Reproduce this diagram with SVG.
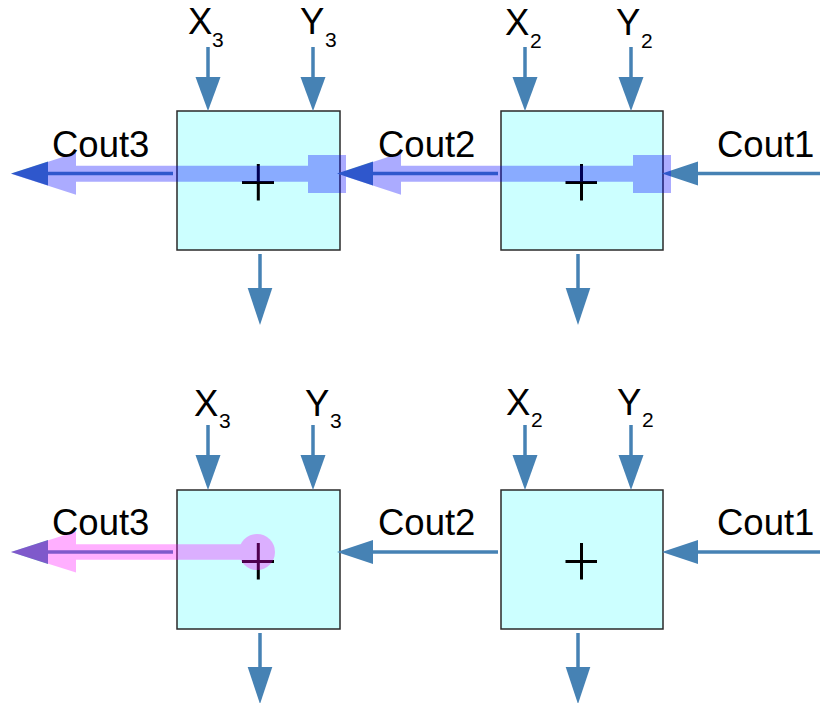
<svg xmlns="http://www.w3.org/2000/svg" width="820" height="703" viewBox="0 0 820 703">
  <style>
    .box { fill: #ccffff; stroke: #2a2a2a; stroke-width: 1.5; }
    .plus { stroke: #000; stroke-width: 3; fill: none; }
    .wire { stroke: #4682b4; stroke-width: 3.5; fill: none; }
    .head { fill: #4682b4; }
    .lbl { font-family: "Liberation Sans", Arial, sans-serif; font-size: 36.5px; fill: #000; }
    .sub { font-family: "Liberation Sans", Arial, sans-serif; font-size: 21px; fill: #000; }
  </style>
  <rect width="820" height="703" fill="#ffffff"/>

  <!-- Top row nodes -->
  <g id="adder-top-3">
    <rect class="box" x="177" y="111" width="163" height="139"/>
    <path class="plus" d="M242 182.5 H274 M258.3 164 V200.5"/>
  </g>
  <g id="adder-top-2">
    <rect class="box" x="501" y="111" width="162" height="139"/>
    <path class="plus" d="M565.5 182.5 H597 M581.5 164 V200.5"/>
  </g>
  <!-- Bottom row nodes -->
  <g id="adder-bottom-3">
    <rect class="box" x="177" y="490" width="163" height="139"/>
    <path class="plus" d="M242 561.5 H274 M258.3 543 V579.5"/>
  </g>
  <g id="adder-bottom-2">
    <rect class="box" x="501" y="490" width="162" height="139"/>
    <path class="plus" d="M565.5 561.5 H597 M581.5 543 V579.5"/>
  </g>

  <!-- Connectors -->
  <g id="connectors">
    <!-- top inputs -->
    <line class="wire" x1="208" y1="47" x2="208" y2="78"/>
    <polygon class="head" points="195.5,77 220.5,77 208,111"/>
    <line class="wire" x1="313" y1="47" x2="313" y2="78"/>
    <polygon class="head" points="300.5,77 325.5,77 313,111"/>
    <line class="wire" x1="525" y1="47" x2="525" y2="78"/>
    <polygon class="head" points="512.5,77 537.5,77 525,111"/>
    <line class="wire" x1="631" y1="47" x2="631" y2="78"/>
    <polygon class="head" points="618.5,77 643.5,77 631,111"/>
    <!-- top outputs -->
    <line class="wire" x1="260" y1="254" x2="260" y2="289"/>
    <polygon class="head" points="247.7,288 272.3,288 260,325"/>
    <line class="wire" x1="578" y1="254" x2="578" y2="289"/>
    <polygon class="head" points="565.7,288 590.3,288 578,325"/>
    <!-- top carries -->
    <line class="wire" x1="820" y1="173.5" x2="697" y2="173.5"/>
    <polygon class="head" points="662,173.5 698,161.5 698,185.5"/>
    <line class="wire" x1="498" y1="173.5" x2="372" y2="173.5"/>
    <polygon class="head" points="337,173.5 373,161.5 373,185.5"/>
    <line class="wire" x1="173" y1="173.5" x2="47" y2="173.5"/>
    <polygon class="head" points="11,173.5 48,161.5 48,185.5"/>

    <!-- bottom inputs -->
    <line class="wire" x1="208" y1="425" x2="208" y2="456"/>
    <polygon class="head" points="195.5,455 220.5,455 208,490"/>
    <line class="wire" x1="313" y1="425" x2="313" y2="456"/>
    <polygon class="head" points="300.5,455 325.5,455 313,490"/>
    <line class="wire" x1="525" y1="425" x2="525" y2="456"/>
    <polygon class="head" points="512.5,455 537.5,455 525,490"/>
    <line class="wire" x1="631" y1="425" x2="631" y2="456"/>
    <polygon class="head" points="618.5,455 643.5,455 631,490"/>
    <!-- bottom outputs -->
    <line class="wire" x1="260" y1="633" x2="260" y2="668"/>
    <polygon class="head" points="247.7,667 272.3,667 260,704"/>
    <line class="wire" x1="578" y1="633" x2="578" y2="668"/>
    <polygon class="head" points="565.7,667 590.3,667 578,704"/>
    <!-- bottom carries -->
    <line class="wire" x1="820" y1="552" x2="697" y2="552"/>
    <polygon class="head" points="662,552 698,540 698,564"/>
    <line class="wire" x1="498" y1="552" x2="372" y2="552"/>
    <polygon class="head" points="337,552 373,540 373,564"/>
    <line class="wire" x1="173" y1="552" x2="47" y2="552"/>
    <polygon class="head" points="11,552 48,540 48,564"/>
  </g>

  <!-- Highlighted carry paths -->
  <g id="highlight-ripple" fill="#0000ff" opacity="0.33">
    <path d="M11 173.7 L76 152.7 L76 165.7 L308 165.7 L308 155 L346 155 L346 193 L308 193 L308 181.7 L76 181.7 L76 194.7 Z
             M337 173.7 L401 152.7 L401 165.7 L633 165.7 L633 155 L671 155 L671 193 L633 193 L633 181.7 L401 181.7 L401 194.7 Z"/>
  </g>
  <g id="highlight-lookahead" fill="#ff00ff" opacity="0.31">
    <path d="M11 552 L76 531.5 L76 544.2 L257 544.2 L257 559.8 L76 559.8 L76 572.5 Z"/>
    <circle cx="257" cy="552" r="18"/>
  </g>

  <!-- Labels -->
  <g id="labels-top">
    <text class="lbl" x="188" y="33.5">X</text><text class="sub" x="212" y="46.5">3</text>
    <text class="lbl" x="300" y="33.5">Y</text><text class="sub" x="325" y="46.5">3</text>
    <text class="lbl" x="505" y="35">X</text><text class="sub" x="530" y="47.5">2</text>
    <text class="lbl" x="616" y="35">Y</text><text class="sub" x="641" y="47.5">2</text>
    <text class="lbl" x="52" y="157">Cout3</text>
    <text class="lbl" x="378" y="157">Cout2</text>
    <text class="lbl" x="717" y="157">Cout1</text>
  </g>
  <g id="labels-bottom">
    <text class="lbl" x="194" y="415.5">X</text><text class="sub" x="219" y="428">3</text>
    <text class="lbl" x="305" y="415.5">Y</text><text class="sub" x="330" y="428">3</text>
    <text class="lbl" x="506" y="415">X</text><text class="sub" x="531" y="427">2</text>
    <text class="lbl" x="617" y="415">Y</text><text class="sub" x="642" y="427">2</text>
    <text class="lbl" x="52" y="535">Cout3</text>
    <text class="lbl" x="378" y="535">Cout2</text>
    <text class="lbl" x="717" y="535">Cout1</text>
  </g>
</svg>
